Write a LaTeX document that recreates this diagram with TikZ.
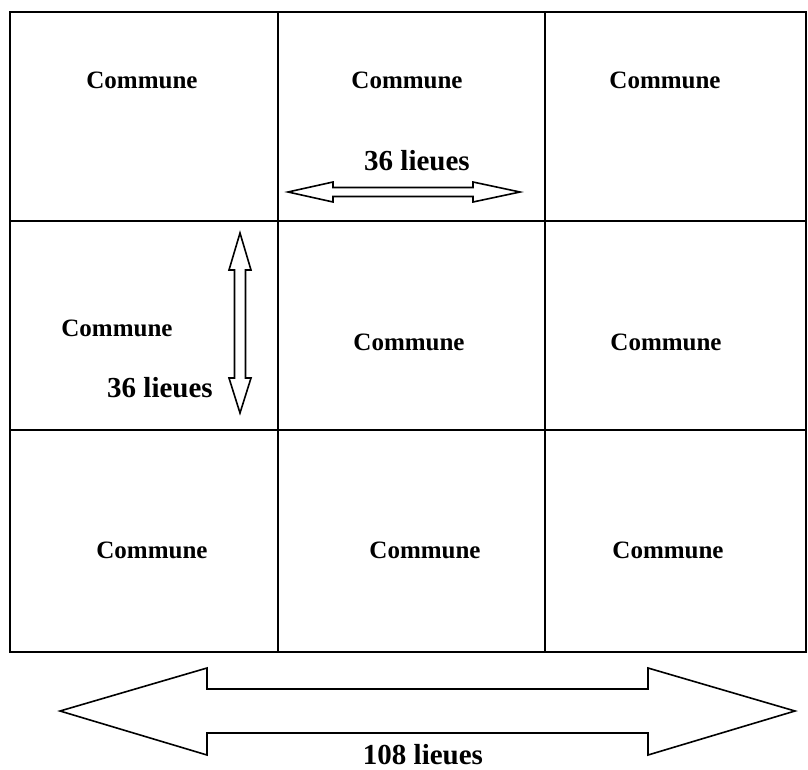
\documentclass[tikz,border=0pt]{standalone}
\usepackage{fontspec}
\setmainfont{Liberation Serif}
\begin{document}
\begin{tikzpicture}[x=1pt,y=-1pt,
  cell/.style={draw=black,line width=1.8pt,rectangle,inner sep=0pt,outer sep=0pt},
  lbl/.style={font=\fontsize{25}{28}\selectfont\bfseries,inner sep=0pt},
  dist/.style={font=\fontsize{29}{32}\selectfont\bfseries,inner sep=0pt},
  arr/.style={draw=black,line width=1.6pt,fill=white,line join=miter}]
\useasboundingbox (0,0) rectangle (808,769);
% grid
\foreach \r/\ya/\yb in {1/12/221,2/221/430,3/430/652}{
  \foreach \c/\xa/\xb in {1/10/278,2/278/545,3/545/806}{
    \node[cell,minimum width={\xb-\xa},minimum height={\yb-\ya},anchor=north west] (c\r\c) at (\xa,\ya) {};
  }
}
% labels
\node[lbl] (l11) at (142,80) {Commune};
\node[lbl] (l12) at (407,80) {Commune};
\node[lbl] (l13) at (665,80) {Commune};
\node[lbl] (l21) at (117,328) {Commune};
\node[lbl] (l22) at (409,342) {Commune};
\node[lbl] (l23) at (666,342) {Commune};
\node[lbl] (l31) at (152,550) {Commune};
\node[lbl] (l32) at (425,550) {Commune};
\node[lbl] (l33) at (668,550) {Commune};
% top arrow
\draw[arr] (288,192) -- (333,182) -- (333,187.5) -- (473,187.5) -- (473,182) -- (520,192)
  -- (473,202) -- (473,196.5) -- (333,196.5) -- (333,202) -- cycle;
\node[dist] (d1) at (417,161) {36 lieues};
% vertical arrow
\draw[arr] (240,233) -- (251,270) -- (245.5,270) -- (245.5,378) -- (251,378) -- (240,413)
  -- (229,378) -- (234.5,378) -- (234.5,270) -- (229,270) -- cycle;
\node[dist] (d2) at (160,388) {36 lieues};
% big arrow
\draw[arr] (60,711) -- (207,668) -- (207,689) -- (648,689) -- (648,668) -- (795,711)
  -- (648,755) -- (648,733) -- (207,733) -- (207,755) -- cycle;
\node[dist,anchor=base] (d3) at (423,764) {108 lieues};
\end{tikzpicture}
\end{document}
